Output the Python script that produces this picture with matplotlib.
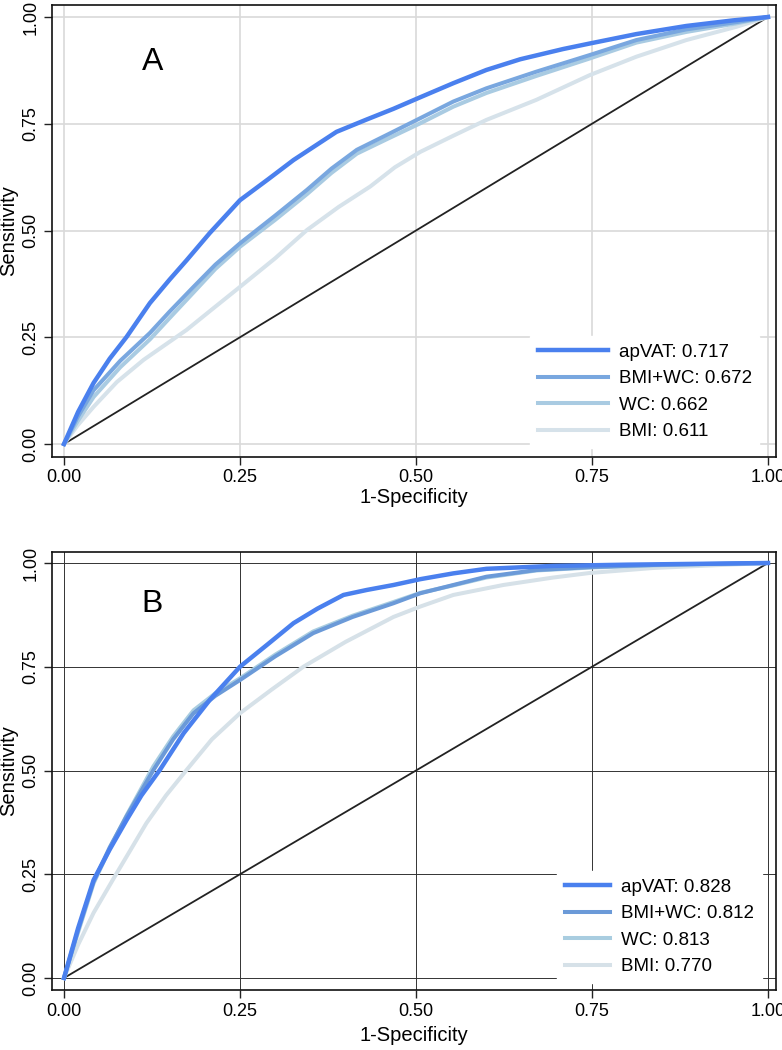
import matplotlib
matplotlib.use("Agg")
import matplotlib.pyplot as plt

plt.rcParams['font.family'] = ['Liberation Sans', 'DejaVu Sans']

# ---------------- Data ----------------
# Panel A
a_apvat_x = [0.0, 0.02, 0.042, 0.065, 0.089, 0.122, 0.15, 0.174, 0.207, 0.25, 0.29, 0.326, 0.387, 0.43, 0.468,
             0.506, 0.553, 0.6, 0.648, 0.709, 0.747, 0.813, 0.884, 0.95, 1.0]
a_apvat_y = [0.0, 0.075, 0.143, 0.2, 0.251, 0.33, 0.385, 0.43, 0.494, 0.571, 0.62, 0.665, 0.731, 0.76, 0.785,
             0.812, 0.845, 0.876, 0.901, 0.925, 0.938, 0.96, 0.979, 0.992, 1.0]

a_bmiwc_x = [0.0, 0.02, 0.042, 0.08, 0.122, 0.15, 0.184, 0.215, 0.25, 0.3, 0.345, 0.38, 0.416, 0.46, 0.506,
             0.553, 0.6, 0.671, 0.747, 0.813, 0.884, 0.955, 1.0]
a_bmiwc_y = [0.0, 0.065, 0.126, 0.195, 0.26, 0.31, 0.368, 0.42, 0.47, 0.535, 0.595, 0.645, 0.689, 0.725, 0.763,
             0.802, 0.833, 0.872, 0.911, 0.946, 0.971, 0.988, 1.0]

a_wc_x = [0.0, 0.02, 0.042, 0.08, 0.122, 0.15, 0.184, 0.215, 0.25, 0.3, 0.345, 0.38, 0.416, 0.46, 0.506,
          0.553, 0.6, 0.671, 0.747, 0.813, 0.884, 0.955, 1.0]
a_wc_y = [0.0, 0.055, 0.11, 0.18, 0.245, 0.295, 0.355, 0.41, 0.462, 0.525, 0.585, 0.635, 0.68, 0.715, 0.751,
          0.79, 0.822, 0.862, 0.903, 0.94, 0.965, 0.985, 1.0]

a_bmi_x = [0.0, 0.02, 0.042, 0.075, 0.113, 0.174, 0.21, 0.25, 0.3, 0.345, 0.39, 0.435, 0.47, 0.506, 0.553,
           0.6, 0.671, 0.747, 0.813, 0.884, 0.955, 1.0]
a_bmi_y = [0.0, 0.045, 0.087, 0.145, 0.197, 0.267, 0.315, 0.368, 0.435, 0.501, 0.555, 0.603, 0.648, 0.684, 0.722,
           0.759, 0.806, 0.864, 0.907, 0.946, 0.977, 1.0]

# Panel B
b_apvat_x = [0.0, 0.01, 0.02, 0.042, 0.065, 0.089, 0.11, 0.136, 0.17, 0.207, 0.25, 0.29, 0.326, 0.36, 0.397,
             0.43, 0.468, 0.506, 0.553, 0.6, 0.695, 0.8, 0.9, 1.0]
b_apvat_y = [0.0, 0.06, 0.12, 0.236, 0.31, 0.381, 0.44, 0.501, 0.59, 0.67, 0.75, 0.805, 0.855, 0.89, 0.923,
             0.935, 0.947, 0.961, 0.975, 0.986, 0.993, 0.996, 0.998, 1.0]

b_bmiwc_x = [0.0, 0.01, 0.02, 0.042, 0.065, 0.089, 0.127, 0.155, 0.184, 0.215, 0.25, 0.3, 0.354, 0.41, 0.468,
             0.506, 0.553, 0.6, 0.671, 0.747, 0.85, 1.0]
b_bmiwc_y = [0.0, 0.058, 0.115, 0.232, 0.315, 0.39, 0.501, 0.575, 0.638, 0.68, 0.718, 0.775, 0.831, 0.87, 0.903,
             0.927, 0.947, 0.967, 0.983, 0.99, 0.996, 1.0]

b_wc_x = [0.0, 0.01, 0.02, 0.042, 0.065, 0.089, 0.127, 0.155, 0.184, 0.215, 0.25, 0.3, 0.354, 0.41, 0.468,
          0.506, 0.553, 0.6, 0.671, 0.747, 0.85, 1.0]
b_wc_y = [0.0, 0.055, 0.11, 0.228, 0.312, 0.392, 0.51, 0.582, 0.645, 0.686, 0.722, 0.779, 0.835, 0.873, 0.906,
          0.928, 0.946, 0.965, 0.982, 0.989, 0.995, 1.0]

b_bmi_x = [0.0, 0.02, 0.042, 0.075, 0.095, 0.117, 0.145, 0.174, 0.21, 0.25, 0.295, 0.34, 0.4, 0.468, 0.506,
           0.553, 0.624, 0.695, 0.747, 0.837, 0.93, 1.0]
b_bmi_y = [0.0, 0.08, 0.157, 0.253, 0.31, 0.373, 0.44, 0.501, 0.575, 0.638, 0.695, 0.75, 0.81, 0.87, 0.895,
           0.923, 0.947, 0.965, 0.976, 0.988, 0.995, 1.0]

a_labels = ['apVAT: 0.717', 'BMI+WC: 0.672', 'WC: 0.662', 'BMI: 0.611']
b_labels = ['apVAT: 0.828', 'BMI+WC: 0.812', 'WC: 0.813', 'BMI: 0.770']

ticks = [0.0, 0.25, 0.5, 0.75, 1.0]
tick_labels = ['0.00', '0.25', '0.50', '0.75', '1.00']

a_colors = ['#4a80ee', '#79a7df', '#a9cbe2', '#d6e2ea']
b_colors = ['#4a80ee', '#6b9ad8', '#a9cde0', '#d6e1e8']

# ---------------- Figure ----------------
W, H = 782, 1050
fig = plt.figure(figsize=(W/100, H/100), dpi=100)

ax_a = fig.add_axes([52/W, 1-457/H, 724/W, 452/H])
ax_b = fig.add_axes([52/W, 1-990/H, 724/W, 438/H])


def draw(ax, series, labels, colors, grid_color, grid_lw, letter, letter_pos,
         legend_anchor, handle_len, text_pad, xlabelpad):
    ax.set_axisbelow(True)
    ax.grid(True, color=grid_color, linewidth=grid_lw)
    ax.plot([0, 1], [0, 1], color='#222222', linewidth=1.3, zorder=2)
    lines = {}
    for i in [3, 2, 1, 0]:
        xs, ys = series[i]
        ln, = ax.plot(xs, ys, color=colors[i], linewidth=3.2 if i == 0 else 2.9,
                      solid_joinstyle='round', zorder=3 + (3 - i), label=labels[i])
        lines[i] = ln
    handles = [lines[i] for i in range(4)]
    leg = ax.legend(handles, labels, loc='upper left', bbox_to_anchor=legend_anchor,
                    bbox_transform=ax.transAxes, fontsize=13.5,
                    frameon=True, fancybox=False, framealpha=1,
                    facecolor='white', edgecolor='white',
                    handlelength=handle_len, handletextpad=text_pad,
                    labelspacing=0.5, borderpad=0.4, borderaxespad=0.0)
    leg.set_zorder(10)
    ax.set_xlim(-12/704, 1 + 8/704)
    ax.set_xticks(ticks)
    ax.set_xticklabels(tick_labels)
    ax.set_yticks(ticks)
    ax.set_yticklabels(tick_labels, rotation=90, va='center')
    ax.tick_params(axis='both', labelsize=13, length=6, width=1.0, color='#222222', direction='out', pad=3)
    ax.set_xlabel('1-Specificity', fontsize=14.5, labelpad=xlabelpad)
    ax.set_ylabel('Sensitivity', fontsize=14.5, labelpad=3)
    for s in ax.spines.values():
        s.set_linewidth(1.2)
        s.set_color('#111111')
    ax.text(letter_pos[0], letter_pos[1], letter, fontsize=23, ha='center', va='center')


draw(ax_a, [(a_apvat_x, a_apvat_y), (a_bmiwc_x, a_bmiwc_y), (a_wc_x, a_wc_y), (a_bmi_x, a_bmi_y)],
     a_labels, a_colors, '#d9d9d9', 1.2, 'A', (0.126, 0.895),
     ((530-52)/724, (457-336)/452), 3.75, 0.58, 1)
ax_a.set_ylim((444-457)/427, (444-5)/427)

draw(ax_b, [(b_apvat_x, b_apvat_y), (b_bmiwc_x, b_bmiwc_y), (b_wc_x, b_wc_y), (b_bmi_x, b_bmi_y)],
     b_labels, b_colors, '#333333', 0.7, 'B', (0.125, 0.90),
     ((557-52)/724, (990-871)/438), 2.4, 0.63, 5)
ax_b.set_ylim((978-990)/415, (978-552)/415)

fig.savefig('out.png', dpi=100)
